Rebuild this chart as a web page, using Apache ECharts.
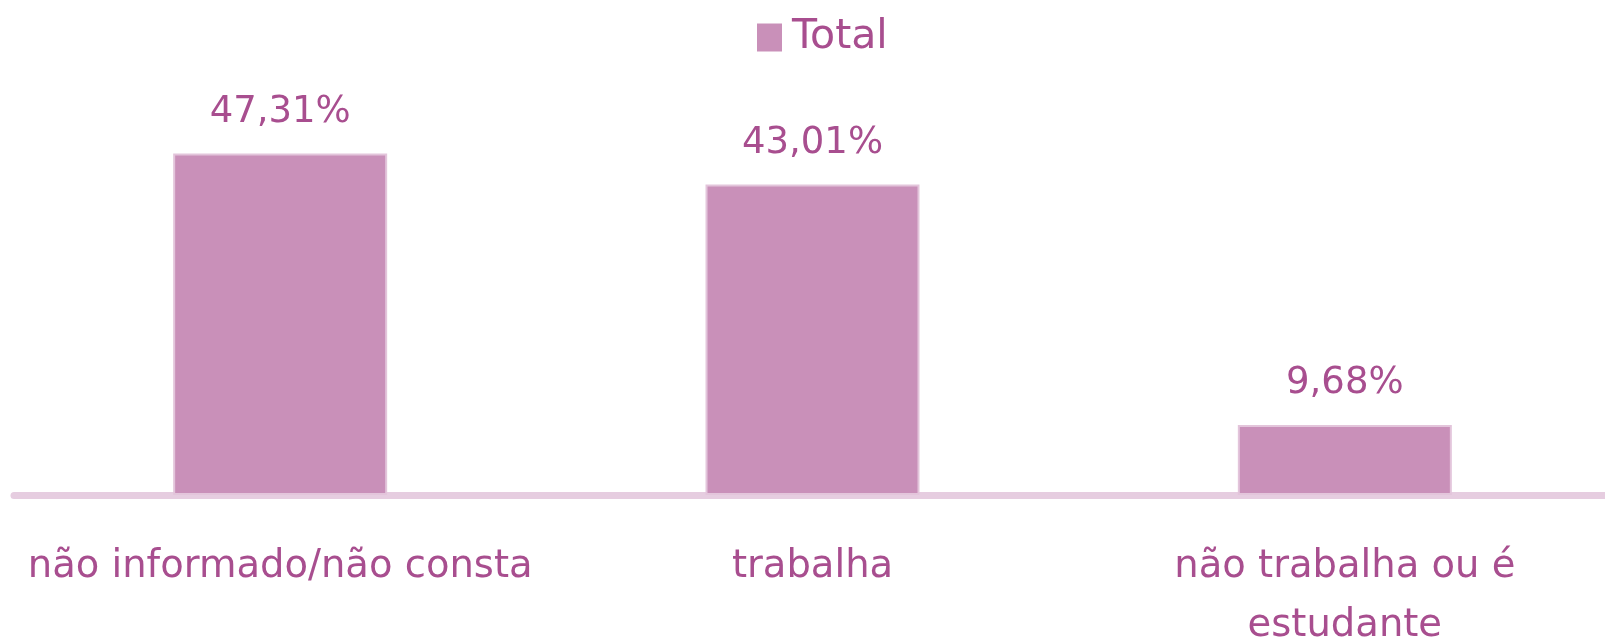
<!DOCTYPE html>
<html>

<head>
<meta charset="utf-8">
<title>Total</title>
<script src="https://cdn.jsdelivr.net/npm/echarts@6/dist/echarts.min.js"></script>
<style>
    html, body { margin: 0; padding: 0; background: #fff; overflow: hidden; }
</style>
</head>

<body>
	<div id="main" style="width: 1605px; height: 641px;"></div>
	<script type="text/javascript">
        // dados
        var categorias = ['não informado/não consta', 'trabalha', 'não trabalha ou é\nestudante'];
        var valores = [47.31, 43.01, 9.68];
        var nomeSerie = 'Total';

        var corBarra = '#c990b9';
        var corTexto = '#a84e8f';

        var myChart = echarts.init(document.getElementById('main'));
        myChart.setOption({
            animation: false,
            textStyle: { fontFamily: 'DejaVu Sans' },
            legend: {
                data: [nomeSerie],
                left: 757,
                top: 17,
                padding: 0,
                icon: 'rect',
                itemWidth: 25,
                itemHeight: 28,
                textStyle: { fontSize: 41, color: corTexto, fontFamily: 'DejaVu Sans', padding: [4, 0, 0, 5] },
                itemStyle: { borderWidth: 0 }
            },
            grid: { left: 14, top: 134, width: 1597, bottom: 146, outerBoundsMode: 'none' },
            xAxis: {
                type: 'category',
                data: categorias,
                axisLine: { lineStyle: { color: '#e6cde0', width: 7 } },
                axisTick: { show: false },
                axisLabel: {
                    interval: 0,
                    margin: 42,
                    fontSize: 38.5,
                    lineHeight: 59,
                    color: corTexto,
                    fontFamily: 'DejaVu Sans'
                }
            },
            yAxis: {
                type: 'value',
                min: 0,
                max: 50,
                show: false,
                splitLine: { show: false }
            },
            series: [{
                name: nomeSerie,
                type: 'bar',
                data: valores,
                barWidth: 214,
                itemStyle: { color: corBarra, borderColor: '#e3c5db', borderWidth: 2 },
                label: {
                    show: true,
                    position: 'top',
                    distance: 23,
                    fontSize: 37,
                    color: corTexto,
                    fontFamily: 'DejaVu Sans',
                    formatter: function (p) {
                        return p.value.toFixed(2).replace('.', ',') + '%';
                    }
                }
            }]
        });
    </script>
</body>

</html>
